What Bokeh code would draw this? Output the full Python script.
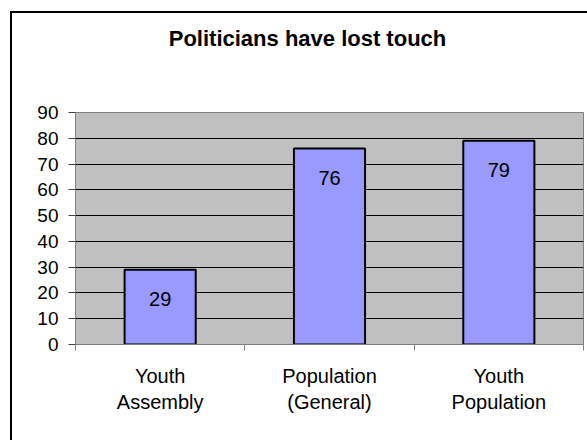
from bokeh.plotting import figure
from bokeh.models import FixedTicker, Range1d, ColumnDataSource, Div
from bokeh.layouts import column
from bokeh.core.properties import value
from bokeh.embed import file_html
from bokeh.resources import INLINE
import numpy as np

# data
categories = ["Youth\nAssembly", "Population\n(General)", "Youth\nPopulation"]
values = [29, 76, 79]
y_ticks = [0, 10, 20, 30, 40, 50, 60, 70, 80, 90]
title_text = "Politicians have lost touch"

FONT = "Liberation Sans"

xs = np.arange(len(categories)) + 0.5
src = ColumnDataSource(dict(x=xs, top=values, label=[str(v) for v in values]))

title_div = Div(
    text=('<div style="width:591px;height:52px;line-height:52px;text-align:center;'
          'font-family:\'%s\';font-size:22px;font-weight:bold;color:black;'
          'white-space:nowrap;">%s</div>') % (FONT, title_text),
    width=575, height=52, margin=0)

p = figure(width=575, height=375, output_backend="svg", toolbar_location=None,
           x_range=Range1d(0, len(categories)), y_range=Range1d(0, 90),
           min_border_left=63, min_border_right=4, min_border_top=47, min_border_bottom=96,
           margin=0)
p.background_fill_color = "#C0C0C0"
p.border_fill_color = "white"
p.outline_line_color = "#808080"
p.outline_line_width = 1

p.vbar(x="x", top="top", bottom=0, width=0.42, source=src,
       fill_color="#9999FF", line_color="black", line_width=2)
p.text(x="x", y="top", text="label", source=src, y_offset=29,
       text_align="center", text_baseline="middle", text_font=value(FONT),
       text_font_size="20px", text_color="black")

# grid
p.xgrid.visible = False
p.ygrid.ticker = FixedTicker(ticks=y_ticks)
p.ygrid.grid_line_color = "black"
p.ygrid.grid_line_width = 1

# y axis
ya = p.yaxis[0]
ya.ticker = FixedTicker(ticks=y_ticks)
ya.axis_line_color = "#808080"
ya.major_tick_line_color = "#404040"
ya.major_tick_in = 0
ya.major_tick_out = 7
ya.minor_tick_line_color = None
ya.major_label_standoff = 10
ya.major_label_text_font = FONT
ya.major_label_text_font_size = "19px"
ya.major_label_text_color = "black"

# x axis
xa = p.xaxis[0]
xa.ticker = FixedTicker(ticks=list(xs), minor_ticks=list(range(len(categories) + 1)))
xa.major_label_overrides = {float(x): c for x, c in zip(xs, categories)}
xa.axis_line_color = "#808080"
xa.major_tick_line_color = None
xa.major_tick_in = 0
xa.major_tick_out = 0
xa.minor_tick_line_color = "#808080"
xa.minor_tick_in = 0
xa.minor_tick_out = 6
xa.major_label_standoff = 14
xa.major_label_text_font = FONT
xa.major_label_text_font_size = "20px"
xa.major_label_text_color = "black"

layout = column(title_div, p, spacing=0)
layout.styles = {"margin-left": "10px", "margin-top": "11px",
                 "border-left": "2px solid black", "border-top": "2px solid black",
                 "background-color": "white"}

open("out.html", "w").write(file_html(layout, INLINE))
